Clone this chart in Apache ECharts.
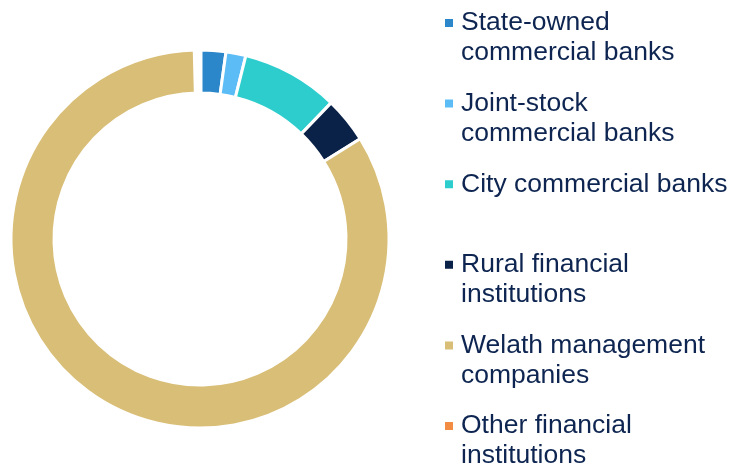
<!DOCTYPE html>
<html>
<head>
<meta charset="utf-8">
<script src="https://cdn.jsdelivr.net/npm/echarts@6/dist/echarts.min.js"></script>
<style>
  html, body { margin: 0; padding: 0; background: #ffffff; }
  #chart { width: 732px; height: 466px; }
</style>
</head>
<body>
<div id="chart"></div>
<script>
// Holders' shares (%) by institution type
const categories = [
  'State-owned commercial banks',
  'Joint-stock commercial banks',
  'City commercial banks',
  'Rural financial institutions',
  'Welath management companies',
  'Other financial institutions'
];
const shares = [2.2, 1.7, 8.3, 3.9, 83.5, 0.4];
const legendLabels = [
  'State-owned\ncommercial banks',
  'Joint-stock\ncommercial banks',
  'City commercial banks\n',
  'Rural financial\ninstitutions',
  'Welath management\ncompanies',
  'Other financial\ninstitutions'
];
const colors = ['#2B87C9', '#5CBDF6', '#2ECDCD', '#0A2248', '#D8BE76', '#F28C43'];

const textColor = '#0D2550';

const pieData = categories.map((name, i) => {
  const item = { name: name, value: shares[i], itemStyle: { color: colors[i] } };
  if (i === categories.length - 1) {
    item.itemStyle.borderWidth = 5;
  }
  return item;
});

const chart = echarts.init(document.getElementById('chart'), null, { renderer: 'canvas' });
chart.setOption({
  animation: false,
  backgroundColor: '#ffffff',
  legend: {
    orient: 'vertical',
    left: 445,
    top: 8,
    height: 520,
    padding: 0,
    itemGap: 20.6,
    itemWidth: 11,
    itemHeight: 60,
    symbolKeepAspect: false,
    // square marker sitting beside the first text line
    icon: 'path://M0,11H8V19H0Z M0,0L0.01,0 M11,60L10.99,60',
    itemStyle: { borderWidth: 0 },
    selectedMode: false,
    data: categories,
    formatter: function (name) {
      return legendLabels[categories.indexOf(name)];
    },
    textStyle: {
      fontFamily: 'Arial, "Liberation Sans", sans-serif',
      fontSize: 26.5,
      lineHeight: 30,
      color: textColor,
      padding: 0
    }
  },
  series: [{
    type: 'pie',
    center: [200, 239],
    radius: [146, 189],
    startAngle: 90,
    clockwise: true,
    avoidLabelOverlap: false,
    label: { show: false },
    labelLine: { show: false },
    emphasis: { disabled: true },
    itemStyle: { borderColor: '#ffffff', borderWidth: 3 },
    data: pieData
  }]
});
</script>
</body>
</html>
